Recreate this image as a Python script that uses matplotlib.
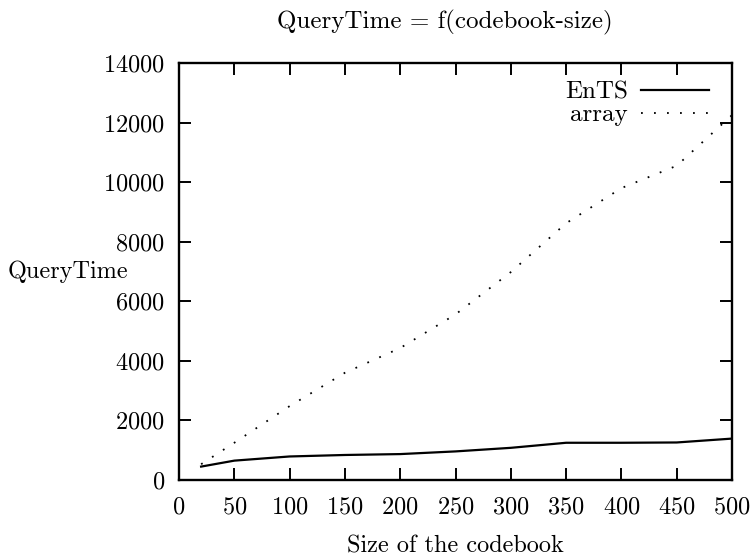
import matplotlib
matplotlib.use("Agg")
import matplotlib.pyplot as plt

plt.rcParams['font.family'] = 'cmr10'
plt.rcParams['axes.formatter.use_mathtext'] = True

# valeurs
taille = [20, 50, 100, 150, 200, 250, 300, 350, 400, 450, 500]
temps_ents = [450, 650, 790, 840, 870, 960, 1080, 1250, 1250, 1260, 1390]
temps_array = [530, 1250, 2480, 3600, 4430, 5560, 6980, 8620, 9800, 10550, 12250]

xticks = list(range(0, 501, 50))
yticks = list(range(0, 14001, 2000))

fig = plt.figure(figsize=(7.52, 5.58), dpi=100)
ax = fig.add_axes([179 / 752, 1 - 480 / 558, 553 / 752, 417 / 558])

ax.plot(taille, temps_ents, color='black', lw=1.6, label='EnTS')
ax.plot(taille, temps_array, color='black', lw=1.3, linestyle=(0, (1, 6.2)),
        label='array')

ax.set_xlim(0, 500)
ax.set_ylim(0, 14000)
ax.set_xticks(xticks)
ax.set_yticks(yticks)
ax.tick_params(direction='in', length=8.6, width=1.4, top=True, right=True,
               labelsize=17.5)
ax.tick_params(axis='x', pad=12)
ax.tick_params(axis='y', pad=10)
for s in ax.spines.values():
    s.set_linewidth(1.7)

ax.set_xlabel('Size of the codebook', fontsize=17.5, labelpad=12)
fig.text(8 / 752, 1 - 272 / 558, 'QueryTime', fontsize=17.5, ha='left', va='center')
fig.text(445 / 752, 1 - 22 / 558, 'QueryTime = f(codebook-size)', fontsize=18,
         ha='center', va='center')

ax.legend(loc='upper right', frameon=False, markerfirst=False, fontsize=18,
          handlelength=2.7, handletextpad=0.55, labelspacing=0.0,
          borderaxespad=0.3, bbox_to_anchor=(0.99, 0.998))

fig.savefig('out.png', dpi=100)
